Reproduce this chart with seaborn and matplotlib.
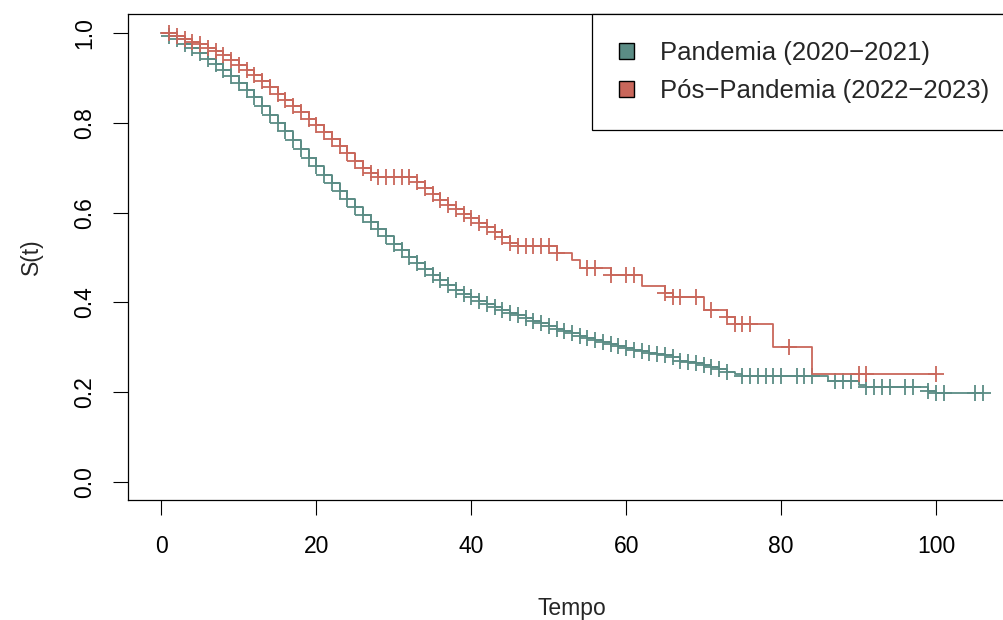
import numpy as np
import pandas as pd
import matplotlib
matplotlib.use("Agg")
import matplotlib.pyplot as plt
import seaborn as sns
from matplotlib.patches import Patch

# ---------------- data ----------------
groups = ["Pandemia (2020\u22122021)", "P\u00f3s\u2212Pandemia (2022\u22122023)"]
colors = ["#5B8C85", "#C9675B"]

pan_time = list(range(0, 76)) + [86, 90, 91, 99, 100, 106]
pan_surv = [1.000, 0.994, 0.987, 0.976, 0.966, 0.955, 0.943, 0.930, 0.917, 0.904,
            0.889, 0.873, 0.857, 0.838, 0.818, 0.800, 0.781, 0.762, 0.742, 0.722,
            0.703, 0.684, 0.666, 0.648, 0.630, 0.612, 0.595, 0.579, 0.563, 0.547,
            0.531, 0.516, 0.502, 0.488, 0.474, 0.461, 0.449, 0.438, 0.428, 0.419,
            0.411, 0.404, 0.397, 0.390, 0.383, 0.377, 0.371, 0.365, 0.359, 0.353,
            0.347, 0.341, 0.336, 0.331, 0.326, 0.321, 0.316, 0.311, 0.307, 0.303,
            0.299, 0.295, 0.291, 0.288, 0.285, 0.282, 0.278, 0.270, 0.267, 0.264,
            0.260, 0.256, 0.251, 0.244, 0.240, 0.236,
            0.226, 0.216, 0.211, 0.203, 0.198, 0.198]
pan_cens = list(range(1, 74)) + [75, 76, 77, 78, 79, 80, 82, 83, 84, 87, 88, 89,
                                 91, 92, 93, 94, 96, 97, 99, 100, 101, 105, 106]

pos_time = list(range(0, 29)) + list(range(33, 47)) + [51, 53, 54, 58, 62, 65, 66,
                                                       70, 73, 74, 79, 84, 100]
pos_surv = [1.000, 1.000, 0.993, 0.987, 0.981, 0.975, 0.967, 0.959, 0.950, 0.940,
            0.929, 0.918, 0.906, 0.893, 0.879, 0.865, 0.851, 0.837, 0.823, 0.809,
            0.795, 0.780, 0.764, 0.748, 0.732, 0.716, 0.700, 0.688, 0.680,
            0.668, 0.655, 0.641, 0.628, 0.617, 0.607, 0.597, 0.587, 0.577, 0.567,
            0.557, 0.546, 0.533, 0.526,
            0.511, 0.494, 0.476, 0.462, 0.436, 0.422, 0.413, 0.383, 0.368, 0.352,
            0.301, 0.240, 0.240]
pos_cens = list(range(1, 52)) + [55, 56, 58, 60, 61, 65, 66, 67, 69, 71, 73, 74,
                                 75, 76, 81, 90, 91, 100]

x_ticks = [0, 20, 40, 60, 80, 100]
y_ticks = [0.0, 0.2, 0.4, 0.6, 0.8, 1.0]
y_tick_labels = ["0.0", "0.2", "0.4", "0.6", "0.8", "1.0"]

# ---------------- build tables ----------------
curve_df = pd.concat([
    pd.DataFrame({"Tempo": pan_time, "S": pan_surv, "grupo": groups[0]}),
    pd.DataFrame({"Tempo": pos_time, "S": pos_surv, "grupo": groups[1]}),
], ignore_index=True)


def cens_values(times, surv, cens):
    times = np.asarray(times)
    surv = np.asarray(surv)
    idx = np.searchsorted(times, cens, side="right") - 1
    return surv[idx]


cens_df = pd.concat([
    pd.DataFrame({"Tempo": pan_cens, "S": cens_values(pan_time, pan_surv, pan_cens),
                  "grupo": groups[0]}),
    pd.DataFrame({"Tempo": pos_cens, "S": cens_values(pos_time, pos_surv, pos_cens),
                  "grupo": groups[1]}),
], ignore_index=True)

# ---------------- plot ----------------
sns.set_style("ticks")
plt.rcParams["font.family"] = ["Liberation Sans", "DejaVu Sans"]

fig = plt.figure(figsize=(10.04, 6.2), dpi=100)
ax = fig.add_axes([128 / 1004, 120 / 620, 888 / 1004, 486 / 620])

for g, c in zip(groups, colors):
    sub = curve_df[curve_df["grupo"] == g]
    sns.lineplot(data=sub, x="Tempo", y="S", ax=ax, color=c, linewidth=1.3,
                 drawstyle="steps-post", estimator=None, sort=False, legend=False)
    cs = cens_df[cens_df["grupo"] == g]
    ax.plot(cs["Tempo"], cs["S"], linestyle="none", marker="+", markersize=12,
            markeredgewidth=1.3, color=c)

ax.set_xlim(-4.3, 110.3)
ax.set_ylim(-0.0401, 1.0423)
ax.set_xticks(x_ticks)
ax.set_xticklabels([str(v) for v in x_ticks])
ax.set_yticks(y_ticks)
ax.set_yticklabels(y_tick_labels, rotation=90, va="center")
ax.tick_params(axis="both", direction="out", length=11, width=0.8, labelsize=16.5,
               color="black", labelcolor="black")
ax.tick_params(axis="x", pad=14)
ax.tick_params(axis="y", pad=12)
for s in ax.spines.values():
    s.set_visible(True)
    s.set_color("black")
    s.set_linewidth(0.9)

ax.set_xlabel("Tempo", fontsize=16.5, labelpad=28)
ax.set_ylabel("S(t)", fontsize=16.5, labelpad=22)
ax.grid(False)

handles = [Patch(facecolor=c, edgecolor="black", linewidth=1.0) for c in colors]
leg = ax.legend(handles, groups, loc="upper right", bbox_to_anchor=(1, 1),
                borderaxespad=0, fancybox=False, framealpha=1, edgecolor="black",
                fontsize=18.5, handlelength=0.6, handleheight=0.6,
                handletextpad=1.0, borderpad=1.05, labelspacing=0.56)
leg.get_frame().set_linewidth(0.9)

fig.savefig("out.png", dpi=100)
